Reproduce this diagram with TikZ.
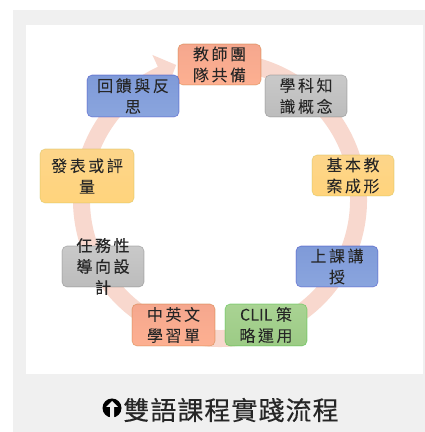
\documentclass[tikz,border=0pt]{standalone}
\usepackage{fontspec}
\newfontfamily\boxfont[LetterSpace=16,FakeBold=0.4]{Noto Sans CJK TC}
\newfontfamily\capfont[LetterSpace=4,FakeBold=0.3]{Noto Sans CJK TC}
\newfontfamily\latinbox[FakeBold=0.4]{Noto Sans CJK TC}
\definecolor{ringc}{HTML}{F8D8CE}
\definecolor{pagegray}{HTML}{F0F0F0}
\definecolor{inkc}{HTML}{262626}
\tikzset{
  x=1pt,y=1pt,
  cardbox/.style={rounded corners=5pt,minimum width=82pt,minimum height=41pt,inner sep=0pt,
    align=center,text=inkc,font=\boxfont\fontsize{16}{21}\selectfont,draw=#1!70!black,draw opacity=.35,line width=.6pt},
  orangecard/.style={cardbox=orange,top color=F1,bottom color=F2},
  graycard/.style={cardbox=gray,top color=G1,bottom color=G2},
  yellowcard/.style={cardbox=yellow,top color=Y1,bottom color=Y2},
  bluecard/.style={cardbox=blue,top color=B1,bottom color=B2},
  greencard/.style={cardbox=green,top color=N1,bottom color=N2},
  cardtext/.style={align=center,inner sep=0pt,text=inkc,font=\boxfont\fontsize{16}{21}\selectfont},
}
\definecolor{F1}{HTML}{F5A78E}\definecolor{F2}{HTML}{FDB091}
\definecolor{G1}{HTML}{C9C9C9}\definecolor{G2}{HTML}{BCBCBC}
\definecolor{Y1}{HTML}{FDD58A}\definecolor{Y2}{HTML}{FFD47C}
\definecolor{B1}{HTML}{7F9AD8}\definecolor{B2}{HTML}{8AA5DE}
\definecolor{N1}{HTML}{A9D393}\definecolor{N2}{HTML}{9CCB85}
\begin{document}
\begin{tikzpicture}
\useasboundingbox (0,0) rectangle (425,432);
\fill[white] (0,0) rectangle (425,432);
\fill[pagegray] (13,0) rectangle (425,422);
\fill[white] (26,58) rectangle (423,407);
% ring arrow
\begin{scope}[shift={(220,232)}]
\fill[ringc] (100:147pt) arc[start angle=100,end angle=-245,radius=147pt]
  -- (115:160pt) -- (108:142pt) -- (117:120pt) -- (115:130pt)
  arc[start angle=115,end angle=460,radius=130pt] -- cycle;
\end{scope}
% cards
\node[orangecard,minimum width=83pt] (n1) at (219.5,367.5) {教師團\\隊共備};
\node[graycard,minimum height=42pt] (n2) at (306,336) {學科知\\識概念};
\node[yellowcard] (n3) at (353,256.5) {基本教\\案成形};
\node[bluecard] (n4) at (337,165.5) {上課講\\授};
\node[greencard,minimum height=42pt] (n5) at (266,107) {{\latinbox CLIL }策\\略運用};
\node[orangecard,minimum width=83pt,minimum height=42pt] (n6) at (173.5,107) {中英文\\學習單};
\node[graycard] (n7) at (103,165.5) {};
\node[cardtext] (n7t) at (103,165.5) {任務性\\導向設\\計};
\node[yellowcard,minimum width=94pt,minimum height=54pt] (n8) at (87,256) {發表或評\\量};
\node[bluecard,minimum width=92pt,minimum height=42pt] (n9) at (133,336) {回饋與反\\思};
% caption icon
\fill[black] (112,24) circle[radius=9.5pt];
\fill[pagegray] (112,31) -- (106,25) -- (110,25) -- (110,14) -- (114,14) -- (114,25) -- (118,25) -- cycle;
% caption
\node[text=inkc,font=\capfont\fontsize{26}{30}\selectfont,inner sep=0pt] (cap) at (231,22) {雙語課程實踐流程};
\end{tikzpicture}
\end{document}
